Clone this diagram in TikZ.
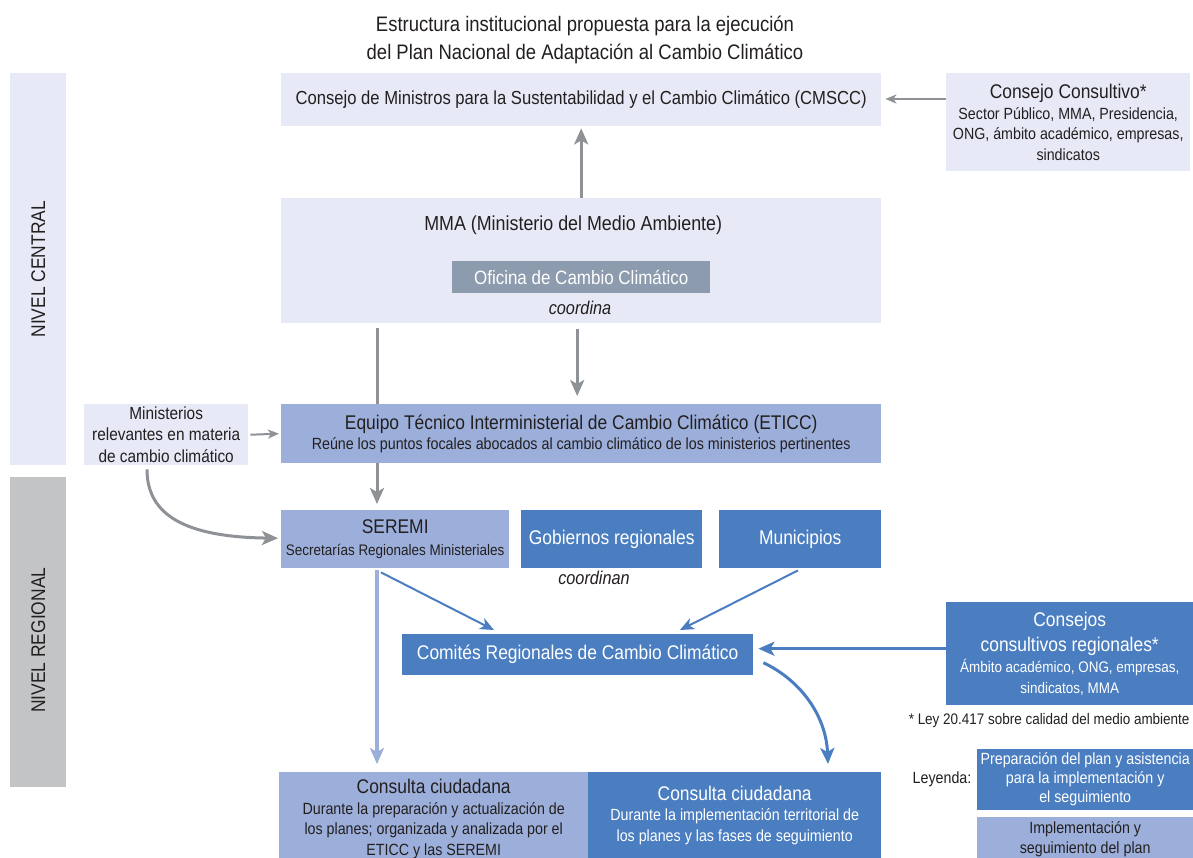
\documentclass[tikz,border=0pt]{standalone}
\usepackage{fontspec}
\setmainfont{Liberation Sans}[FakeStretch=0.88]
\usetikzlibrary{arrows.meta,calc}
\definecolor{lav}{HTML}{E7EAF6}
\definecolor{mid}{HTML}{9CAFDA}
\definecolor{blu}{HTML}{4A7EC0}
\definecolor{ofi}{HTML}{8C9BAE}
\definecolor{gbar}{HTML}{C3C4C6}
\definecolor{garr}{HTML}{8E9196}
\definecolor{txt}{HTML}{231F20}
\newcommand\fsT{\fontsize{21}{28}\selectfont}
\newcommand\fsA{\fontsize{19.8}{22}\selectfont}
\newcommand\fsB{\fontsize{16.2}{20.5}\selectfont}
\newcommand\fsC{\fontsize{15.3}{20.5}\selectfont}
\begin{document}
\begin{tikzpicture}[x=1pt,y=-1pt,
  sz/.style 2 args={minimum width=#1pt,minimum height=#2pt},
  box/.style={anchor=north west, inner sep=2pt, align=center, text=txt},
  lavbox/.style={box, fill=lav},
  midbox/.style={box, fill=mid},
  blubox/.style={box, fill=blu, text=white},
  garrow/.style={draw=garr, line width=3pt, -{Stealth[length=16pt,width=14pt,inset=4pt]}},
  gthin/.style={draw=garr, line width=2pt, -{Stealth[length=11pt,width=9pt,inset=3pt]}},
  marrow/.style={draw=mid, line width=4pt, -{Stealth[length=16pt,width=14pt,inset=4pt]}},
  barrow/.style={draw=blu, line width=2pt, -{Stealth[length=14pt,width=12pt,inset=4pt]}},
  bthick/.style={draw=blu, line width=3pt, -{Stealth[length=16pt,width=14pt,inset=4pt]}},
  lbl/.style={text=txt, align=center}
]
\clip (0,0) rectangle (1193,857);
\useasboundingbox (0,0) rectangle (1193,857);

% title
\node[lbl, font=\fsT] (title) at (585,40) {Estructura institucional propuesta para la ejecución\\del Plan Nacional de Adaptación al Cambio Climático};

% side bars
\node[box, fill=lav, sz={56}{392}] (central) at (10,73) {};
\node[lbl, rotate=90, font=\fsA] (centraltxt) at ($(central.center)+(0,0)$) {NIVEL CENTRAL};
\node[box, fill=gbar, sz={56}{310}] (regional) at (10,477) {};
\node[lbl, rotate=90, font=\fsA] (regionaltxt) at ($(regional.center)+(0,8)$) {NIVEL REGIONAL};

% central level
\node[lavbox, sz={600}{53}, font={\fontsize{18.9}{22}\selectfont}] (cmscc) at (281,73) {Consejo de Ministros para la Sustentabilidad y el Cambio Climático (CMSCC)};
\node[lavbox, sz={244}{98}, font=\fsB] (consultivo) at (946,73) {{\fsA Consejo Consultivo*}\\Sector Público, MMA, Presidencia,\\ONG, ámbito académico, empresas,\\sindicatos};
\node[lavbox, sz={600}{125}] (mma) at (281,198) {};
\node[lbl, font={\fontsize{20.3}{22}\selectfont}] (mmatxt) at ($(mma.north)+(-8,27)$) {MMA (Ministerio del Medio Ambiente)};
\node[box, fill=ofi, text=white, sz={258}{32}, font={\fontsize{19.3}{22}\selectfont}] (oficina) at (452,261) {Oficina de Cambio Climático};
\node[lbl, font={\fontsize{18.5}{22}\selectfont\itshape}] (coordina) at (580,308) {coordina};

\node[midbox, sz={600}{59}, font=\fsB] (eticc) at (281,404) {{\fsA Equipo Técnico Interministerial de Cambio Climático (ETICC)}\\Reúne los puntos focales abocados al cambio climático de los ministerios pertinentes};
\node[lavbox, sz={164}{61}, font={\fontsize{17.5}{21.5}\selectfont}] (minist) at (84,404) {Ministerios\\relevantes en materia\\de cambio climático};

% regional level
\node[midbox, sz={228}{58}, font={\fontsize{15.3}{22}\selectfont}] (seremi) at (281,510) {{\fsA SEREMI}\\Secretarías Regionales Ministeriales};
\node[blubox, sz={181}{58}, font=\fsA] (gob) at (521,510) {Gobiernos regionales};
\node[blubox, sz={162}{58}, font=\fsA] (muni) at (719,510) {Municipios};
\node[lbl, font={\fontsize{18.5}{22}\selectfont\itshape}] (coordinan) at (594,578) {coordinan};
\node[blubox, sz={351}{41}, font=\fsA] (comites) at (402,634) {Comités Regionales de Cambio Climático};
\node[blubox, sz={247}{103}, font=\fsC] (conreg) at (946,602) {{\fsA Consejos}\\[4pt]{\fsA consultivos regionales*}\\[1pt]Ámbito académico, ONG, empresas,\\sindicatos, MMA};
\node[lbl, font=\fsC, anchor=east] (ley) at (1193,721) {* Ley 20.417 sobre calidad del medio ambiente};

\node[midbox, sz={309}{94}, font=\fsB] (c1) at (279,772) {{\fsA Consulta ciudadana}\\Durante la preparación y actualización de\\los planes; organizada y analizada por el\\ETICC y las SEREMI};
\node[blubox, sz={293}{86}, font=\fsB] (c2) at (588,772) {{\fsA Consulta ciudadana}\\Durante la implementación territorial de\\los planes y las fases de seguimiento};

% legend
\node[lbl, font=\fsB] (leyenda) at (942,779) {Leyenda:};
\node[blubox, sz={216}{61}, font={\fontsize{16.2}{19}\selectfont}] (leg1) at (977,749) {Preparación del plan y asistencia\\para la implementación y\\el seguimiento};
\node[midbox, sz={216}{44}, font=\fsB] (leg2) at (977,817) {Implementación y\\seguimiento del plan};

% connectors
\draw[gthin] ($(consultivo.north west)+(0,26)$) -- ($(cmscc.north east)+(4,26)$);
\draw[garrow] (mma.north) -- ($(cmscc.south)+(0,2)$);
\draw[garrow] ($(mma.south)+(-4,6)$) -- ($(eticc.north)+(-4,-8)$);
\draw[draw=garr, line width=3pt] ($(mma.south west)+(96,5)$) -- ($(eticc.north west)+(96,0)$);
\draw[garrow] ($(eticc.south west)+(96,0)$) -- ($(seremi.north west)+(96,-6)$);
\draw[gthin] ($(minist.east)+(2,0)$) -- ($(eticc.west)+(-2,0)$);
\draw[garrow] ($(minist.south west)+(63,4)$) .. controls (147,515) and (185,537) .. ($(seremi.west)+(-3,-1)$);

\draw[marrow] ($(seremi.south west)+(96,2)$) -- ($(c1.north west)+(98,-8)$);
\draw[barrow] ($(seremi.south west)+(100,4)$) -- ($(comites.north west)+(92,-4)$);
\draw[barrow] ($(muni.south west)+(79,2)$) -- ($(comites.north west)+(278,-4)$);
\draw[bthick] ($(conreg.west)+(0,-5)$) -- ($(comites.east)+(5,-6)$);
\draw[bthick] ($(comites.east)+(10,8)$) .. controls (800,680) and (826,715) .. ($(c2.north west)+(240,-8)$);
\end{tikzpicture}
\end{document}
